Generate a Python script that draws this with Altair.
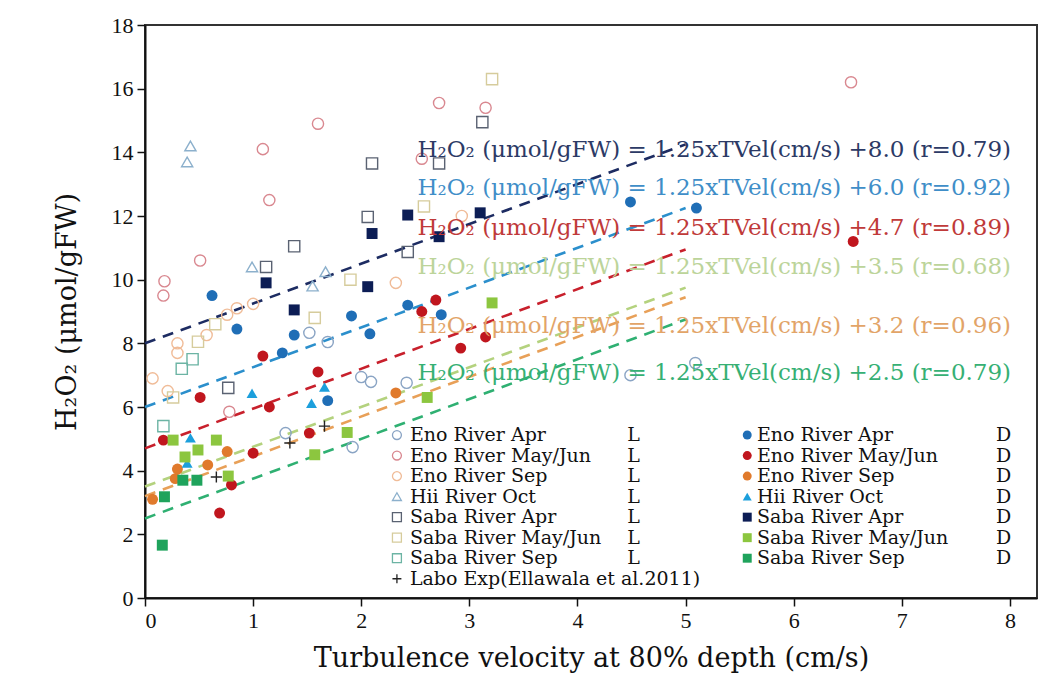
import altair as alt
import pandas as pd

# ---------------- data ----------------
series_names = [
    "Eno River Apr L", "Eno River May/Jun L", "Eno River Sep L", "Hii River Oct L",
    "Saba River Apr L", "Saba River May/Jun L", "Saba River Sep L",
    "Eno River Apr D", "Eno River May/Jun D", "Eno River Sep D", "Hii River Oct D",
    "Saba River Apr D", "Saba River May/Jun D", "Saba River Sep D", "Labo Exp",
]
series_colors = [
    "#8aa4c4", "#d98890", "#f0bc98", "#8cb0cc",
    "#5a6272", "#d6cc9c", "#6cb4a4",
    "#1f6eb6", "#c0161e", "#e07a2c", "#1c9fdc",
    "#0c1d55", "#8cc63f", "#1fa35c", "#222222",
]
series_shapes = [
    "circle", "circle", "circle", "triangle-up",
    "square", "square", "square",
    "circle", "circle", "circle", "triangle-up",
    "square", "square", "square", "M-1,0H1M0,-1V1",
]
open_series = series_names[:7] + ["Labo Exp"]

eno_apr_L_x = [1.30, 1.52, 1.69, 1.92, 2.00, 2.09, 2.42, 4.49, 5.09]
eno_apr_L_y = [5.18, 8.33, 8.04, 4.74, 6.94, 6.79, 6.76, 7.00, 7.38]
eno_may_L_x = [0.17, 0.18, 0.51, 0.78, 1.09, 1.15, 1.60, 2.56, 2.72, 3.15, 6.53]
eno_may_L_y = [9.50, 9.95, 10.6, 5.85, 14.1, 12.5, 14.9, 13.8, 15.55, 15.4, 16.2]
eno_sep_L_x = [0.07, 0.21, 0.30, 0.30, 0.57, 0.76, 0.85, 1.00, 2.32, 2.93]
eno_sep_L_y = [6.90, 6.50, 7.70, 8.00, 8.26, 8.90, 9.10, 9.24, 9.90, 12.0]
hii_oct_L_x = [0.39, 0.42, 0.99, 1.55, 1.67]
hii_oct_L_y = [13.7, 14.2, 10.4, 9.80, 10.25]
saba_apr_L_x = [0.77, 1.12, 1.38, 2.06, 2.10, 2.43, 2.72, 3.12]
saba_apr_L_y = [6.60, 10.4, 11.05, 11.97, 13.65, 10.87, 13.65, 14.95]
saba_may_L_x = [0.26, 0.49, 0.65, 1.57, 1.90, 2.58, 3.21]
saba_may_L_y = [6.30, 8.05, 8.60, 8.80, 10.0, 12.3, 16.3]
saba_sep_L_x = [0.17, 0.34, 0.44]
saba_sep_L_y = [5.40, 7.20, 7.50]
eno_apr_D_x = [0.62, 0.85, 1.27, 1.38, 1.69, 1.91, 2.08, 2.43, 2.74, 4.49, 5.10]
eno_apr_D_y = [9.50, 8.45, 7.70, 8.26, 6.20, 8.86, 8.30, 9.20, 8.90, 12.44, 12.25]
eno_may_D_x = [0.17, 0.51, 0.69, 0.80, 1.00, 1.09, 1.15, 1.52, 1.60, 2.56, 2.69, 2.92, 3.15, 6.55]
eno_may_D_y = [4.96, 6.30, 2.67, 3.55, 4.55, 7.60, 6.00, 5.18, 7.10, 9.00, 9.36, 7.85, 8.20, 11.2]
eno_sep_D_x = [0.07, 0.28, 0.30, 0.58, 0.76, 2.32]
eno_sep_D_y = [3.10, 3.75, 4.05, 4.18, 4.60, 6.44]
hii_oct_D_x = [0.39, 0.42, 0.99, 1.54, 1.66]
hii_oct_D_y = [4.24, 5.03, 6.43, 6.12, 6.63]
saba_apr_D_x = [1.12, 1.38, 2.06, 2.10, 2.43, 2.72, 3.10]
saba_apr_D_y = [9.90, 9.05, 9.78, 11.45, 12.03, 11.35, 12.10]
saba_may_D_x = [0.26, 0.37, 0.49, 0.66, 0.77, 1.57, 1.87, 2.61, 3.21]
saba_may_D_y = [4.96, 4.43, 4.65, 4.96, 3.83, 4.50, 5.20, 6.30, 9.27]
saba_sep_D_x = [0.16, 0.18, 0.35, 0.48]
saba_sep_D_y = [1.66, 3.18, 3.70, 3.70]
labo_x = [0.66, 1.34, 1.66]
labo_y = [3.80, 4.87, 5.40]

series_xy = [
    (eno_apr_L_x, eno_apr_L_y), (eno_may_L_x, eno_may_L_y), (eno_sep_L_x, eno_sep_L_y),
    (hii_oct_L_x, hii_oct_L_y), (saba_apr_L_x, saba_apr_L_y), (saba_may_L_x, saba_may_L_y),
    (saba_sep_L_x, saba_sep_L_y), (eno_apr_D_x, eno_apr_D_y), (eno_may_D_x, eno_may_D_y),
    (eno_sep_D_x, eno_sep_D_y), (hii_oct_D_x, hii_oct_D_y), (saba_apr_D_x, saba_apr_D_y),
    (saba_may_D_x, saba_may_D_y), (saba_sep_D_x, saba_sep_D_y), (labo_x, labo_y),
]

# regression lines (from the equations printed on the chart)
fit_slope = 1.25
fit_intercepts = [8.0, 6.0, 4.7, 3.5, 3.2, 2.5]
fit_r = ["0.79", "0.92", "0.89", "0.68", "0.96", "0.79"]
fit_colors = ["#1d2c62", "#2b8fcc", "#c8202c", "#b4d27e", "#e8a058", "#2fb072"]
fit_text_colors = ["#2c3a66", "#3f8ec8", "#c03a3a", "#bcd49a", "#e2a468", "#36b074"]
fit_label_y = [14.07, 12.88, 11.62, 10.40, 8.55, 7.07]
fit_x_end = 5.0

# legend rows
legend_left = ["Eno River Apr", "Eno River May/Jun", "Eno River Sep", "Hii River  Oct",
               "Saba River Apr", "Saba River May/Jun", "Saba River Sep"]

# ---------------- tables ----------------
rows = []
for name, (xs, ys) in zip(series_names, series_xy):
    for xv, yv in zip(xs, ys):
        rows.append({"series": name, "x": xv, "y": yv})
pts = pd.DataFrame(rows)
open_pts = pts[pts.series.isin(open_series)]
fill_pts = pts[~pts.series.isin(open_series)]

fit_ids = [str(i) for i in range(len(fit_intercepts))]
line_rows, text_rows = [], []
for i, b in enumerate(fit_intercepts):
    for xv in (0.0, fit_x_end):
        line_rows.append({"fit": fit_ids[i], "x": xv, "y": b + fit_slope * xv})
    text_rows.append({"fit": fit_ids[i], "x": 2.52, "y": fit_label_y[i],
                      "label": f"H\u2082O\u2082 (\u03bcmol/gFW) = {fit_slope:.2f}xTVel(cm/s)  +{b:.1f} (r={fit_r[i]})"})
lines = pd.DataFrame(line_rows)
fit_texts = pd.DataFrame(text_rows)

leg_rows = []
row_y0, row_dy = 5.12, 0.645
for i, lab in enumerate(legend_left):
    yv = row_y0 - i * row_dy
    leg_rows.append({"series": series_names[i], "sx": 2.33, "tx": 2.45, "y": yv,
                     "label": lab, "tag": "L", "gx": 4.46, "open": True})
    leg_rows.append({"series": series_names[i + 7], "sx": 5.57, "tx": 5.66, "y": yv,
                     "label": lab, "tag": "D", "gx": 7.87, "open": False})
leg_rows.append({"series": "Labo Exp", "sx": 2.33, "tx": 2.45, "y": row_y0 - 7 * row_dy,
                 "label": "Labo Exp(Ellawala et al.2011)", "tag": "", "gx": 4.46, "open": True})
leg = pd.DataFrame(leg_rows)

# ---------------- chart ----------------
FONT = "Liberation Serif"
WIDE = "DejaVu Serif"
xscale = alt.Scale(domain=[0, 8.25], nice=False, zero=True)
yscale = alt.Scale(domain=[0, 18], nice=False)
cscale = alt.Scale(domain=series_names, range=series_colors)
sscale = alt.Scale(domain=series_names, range=series_shapes)
fscale = alt.Scale(domain=fit_ids, range=fit_colors)
ftscale = alt.Scale(domain=fit_ids, range=fit_text_colors)

X = alt.X("x:Q", scale=xscale,
          axis=alt.Axis(values=list(range(0, 9)), format="d", titleFontSize=27,
                        title="Turbulence velocity at 80% depth  (cm/s)", titlePadding=14))
Y = alt.Y("y:Q", scale=yscale,
          axis=alt.Axis(values=list(range(0, 19, 2)), format="d", titleFontSize=27,
                        title="H\u2082O\u2082 (\u03bcmol/gFW)", titlePadding=30))

fit_lines = alt.Chart(lines).mark_line(strokeDash=[11, 8], strokeWidth=2.6).encode(
    x=X, y=Y, detail="fit:N",
    color=alt.Color("fit:N", scale=fscale, legend=None),
)

open_layer = alt.Chart(open_pts).mark_point(filled=False, strokeWidth=1.4, size=125, opacity=1).encode(
    x=X, y=Y,
    color=alt.Color("series:N", scale=cscale, legend=None),
    shape=alt.Shape("series:N", scale=sscale, legend=None),
)
fill_layer = alt.Chart(fill_pts).mark_point(filled=True, size=120, opacity=1).encode(
    x=X, y=Y,
    color=alt.Color("series:N", scale=cscale, legend=None),
    shape=alt.Shape("series:N", scale=sscale, legend=None),
)

eq_text = alt.Chart(fit_texts).mark_text(align="left", baseline="middle", font=WIDE, fontSize=23).encode(
    x=X, y=Y, text="label:N",
    color=alt.Color("fit:N", scale=ftscale, legend=None),
)

leg_open = alt.Chart(leg[leg.open]).mark_point(filled=False, strokeWidth=1.3, size=80, opacity=1).encode(
    x=alt.X("sx:Q", scale=xscale), y=alt.Y("y:Q", scale=yscale),
    color=alt.Color("series:N", scale=cscale, legend=None),
    shape=alt.Shape("series:N", scale=sscale, legend=None),
)
leg_fill = alt.Chart(leg[~leg.open]).mark_point(filled=True, size=80, opacity=1).encode(
    x=alt.X("sx:Q", scale=xscale), y=alt.Y("y:Q", scale=yscale),
    color=alt.Color("series:N", scale=cscale, legend=None),
    shape=alt.Shape("series:N", scale=sscale, legend=None),
)
leg_label = alt.Chart(leg).mark_text(align="left", baseline="middle", font=WIDE, fontSize=19,
                                     color="#111").encode(
    x=alt.X("tx:Q", scale=xscale), y=alt.Y("y:Q", scale=yscale), text="label:N")
leg_tag = alt.Chart(leg).mark_text(align="left", baseline="middle", font=WIDE, fontSize=19,
                                   color="#111").encode(
    x=alt.X("gx:Q", scale=xscale), y=alt.Y("y:Q", scale=yscale), text="tag:N")

chart = alt.layer(
    fit_lines, open_layer, fill_layer, eq_text, leg_open, leg_fill, leg_label, leg_tag
).resolve_scale(
    color="independent", shape="independent"
).properties(
    width=892, height=573,
    background="white",
    autosize=alt.AutoSizeParams(type="none"),
    padding={"left": 145, "top": 25, "right": 13, "bottom": 80},
).configure_view(
    stroke="#333", strokeWidth=2
).configure_axis(
    grid=False, domainColor="#111", domainWidth=2, tickColor="#111", tickWidth=1.5, tickSize=8,
    labelFont=FONT, labelFontSize=22, labelColor="#111", labelPadding=4,
    titleFont=WIDE, titleFontWeight="normal", titleColor="#111",
)

chart.save("out.html", embed_options={"renderer": "svg", "actions": False})
